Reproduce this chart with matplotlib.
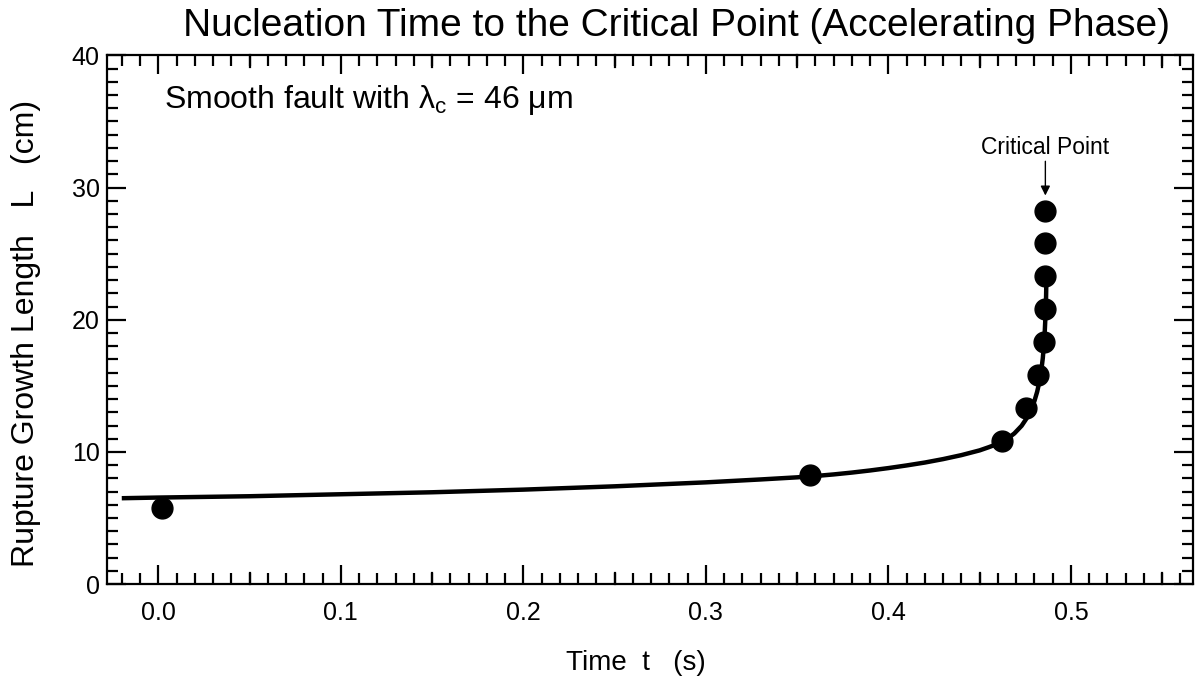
import numpy as np
import matplotlib
matplotlib.use("Agg")
from matplotlib import pyplot as plt
from matplotlib.ticker import MultipleLocator

plt.rcParams['font.family'] = ['Liberation Sans', 'DejaVu Sans']
plt.rcParams['mathtext.fontset'] = 'custom'
plt.rcParams['mathtext.rm'] = 'Liberation Sans'

# measured data points (time s, rupture length cm)
t_obs = [0.002, 0.357, 0.462, 0.4754, 0.482, 0.4851, 0.486, 0.486, 0.486, 0.486]
L_obs = [5.75, 8.25, 10.8, 13.3, 15.8, 18.3, 20.8, 23.3, 25.8, 28.2]

# fitted curve
t_fit = [-0.020, 0.0, 0.05, 0.10, 0.15, 0.20, 0.25, 0.30, 0.33, 0.35, 0.36,
         0.37, 0.38, 0.39, 0.40, 0.41, 0.42, 0.43, 0.44, 0.45, 0.455, 0.46,
         0.465, 0.469, 0.473, 0.476, 0.478, 0.480, 0.4815, 0.4828, 0.4838,
         0.4846, 0.4852, 0.4857, 0.4861, 0.4864, 0.4866]
L_fit = [6.50, 6.55, 6.65, 6.80, 6.95, 7.15, 7.40, 7.70, 7.92, 8.08, 8.18,
         8.30, 8.44, 8.60, 8.78, 8.98, 9.20, 9.46, 9.76, 10.12, 10.36, 10.62,
         10.98, 11.40, 11.98, 12.60, 13.15, 13.85, 14.55, 15.35, 16.20,
         17.10, 18.10, 19.20, 20.40, 21.80, 23.30]

fig = plt.figure(figsize=(11.98, 6.84), dpi=100)
ax = fig.add_axes([0.089, 0.146, 0.907, 0.773])

ax.plot(t_fit, L_fit, 'k-', lw=3.2, solid_capstyle='butt', solid_joinstyle='round')
ax.plot(t_obs, L_obs, 'ko', ms=15, mec='k')

ax.set_xlim(-0.0283, 0.567)
ax.set_ylim(0, 40)
ax.xaxis.set_major_locator(MultipleLocator(0.1))
ax.xaxis.set_minor_locator(MultipleLocator(0.01))
ax.yaxis.set_major_locator(MultipleLocator(10))
ax.yaxis.set_minor_locator(MultipleLocator(1))
ax.xaxis.set_major_formatter(plt.FuncFormatter(lambda v, p: "%.1f" % v))

ax.tick_params(which='both', direction='in', top=True, right=True, width=1.6,
               labelsize=18, colors='k')
ax.tick_params(which='major', length=14)
ax.tick_params(axis='x', which='major', pad=12)
ax.tick_params(axis='y', which='major', pad=5)
ax.tick_params(which='minor', length=8)
for s in ax.spines.values():
    s.set_linewidth(1.6)

# medium ticks at the half-way x positions
for xm in [0.05, 0.15, 0.25, 0.35, 0.45, 0.55]:
    ax.plot([xm, xm], [0, 0.85], 'k-', lw=1.6, clip_on=False)
    ax.plot([xm, xm], [40, 39.15], 'k-', lw=1.6, clip_on=False)

ax.set_xlabel("Time  t   (s)", fontsize=20)
ax.xaxis.set_label_coords(0.487, -0.125)
ax.set_ylabel("Rupture Growth Length   L   (cm)", fontsize=23)
ax.yaxis.set_label_coords(-0.060, 0.475)
fig.text(0.565, 0.962, "Nucleation Time to the Critical Point (Accelerating Phase)",
         fontsize=28, ha='center', va='center')

ax.text(0.003, 36.6, "Smooth fault with λ$_\\mathregular{c}$ = 46 μm", fontsize=23,
        ha='left', va='center')
ax.annotate("Critical Point", xy=(0.486, 29.4), xytext=(0.486, 32.2),
            fontsize=16.5, ha='center', va='bottom',
            arrowprops=dict(arrowstyle='-|>', color='k', lw=1, mutation_scale=14,
                            shrinkA=0, shrinkB=0))

fig.savefig("out.png", dpi=100)
